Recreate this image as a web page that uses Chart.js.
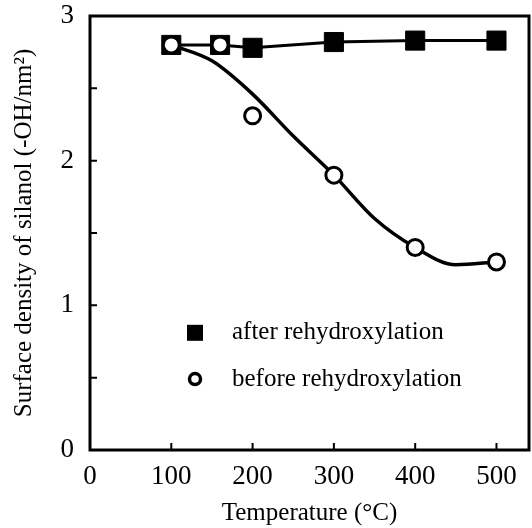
<!DOCTYPE html>
<html>
<head>
<meta charset="utf-8">
<script src="https://cdn.jsdelivr.net/npm/chart.js@4/dist/chart.umd.min.js"></script>
<style>
html,body{margin:0;padding:0;background:#fff;overflow:hidden;}
#wrap{width:532px;height:528px;}
canvas{display:block;}
</style>
</head>
<body>
<div id="wrap"><canvas id="c" width="532" height="528"></canvas></div>
<script>
// ---- data ----
const afterX = [100, 160, 200, 300, 400, 500];
const afterY = [2.80, 2.80, 2.78, 2.82, 2.83, 2.83];
const beforeX = [100, 160, 200, 300, 400, 500];
const beforeY = [2.80, 2.80, 2.31, 1.90, 1.40, 1.30];
const fitX = [100, 150, 200, 250, 300, 350, 400, 450, 500];
const fitY = [2.80, 2.69, 2.46, 2.17, 1.90, 1.60, 1.40, 1.28, 1.30];
const xTicks = [0, 100, 200, 300, 400, 500];
const yTicks = [0, 0.5, 1, 1.5, 2, 2.5, 3];
const seriesLabels = ['after rehydroxylation', 'before rehydroxylation'];
const xTitle = 'Temperature (°C)';
const yTitle = 'Surface density of silanol (-OH/nm²)';

const FONT = "'Liberation Serif', 'DejaVu Serif', serif";
const INK = '#000';

const pts = (xs, ys) => xs.map((x, i) => ({x: x, y: ys[i]}));

const framePlugin = {
  id: 'frame',
  afterDatasetsDraw(chart) {
    const {ctx, chartArea: a, scales} = chart;
    ctx.save();
    ctx.strokeStyle = INK;
    ctx.lineWidth = 3;
    ctx.strokeRect(a.left, a.top, a.right - a.left, a.bottom - a.top);
    ctx.lineWidth = 2;
    const L = 7;
    ctx.beginPath();
    xTicks.forEach(v => {
      const px = scales.x.getPixelForValue(v);
      ctx.moveTo(px, a.bottom); ctx.lineTo(px, a.bottom - L);
    });
    yTicks.forEach(v => {
      const py = scales.y.getPixelForValue(v);
      ctx.moveTo(a.left, py); ctx.lineTo(a.left + L, py);
    });
    ctx.stroke();
    // legend
    const lx = a.left + 105, tx = a.left + 142;
    const ly1 = scales.y.getPixelForValue(0.81);
    const ly2 = scales.y.getPixelForValue(0.49);
    ctx.fillStyle = INK;
    ctx.fillRect(lx - 8, ly1 - 8, 16, 16);
    ctx.beginPath();
    ctx.lineWidth = 3.5;
    ctx.arc(lx, ly2, 5.5, 0, Math.PI * 2);
    ctx.fillStyle = '#fff'; ctx.fill(); ctx.stroke();
    ctx.fillStyle = INK;
    ctx.font = "25px " + FONT;
    ctx.textBaseline = 'middle';
    ctx.fillText(seriesLabels[0], tx, ly1);
    ctx.fillText(seriesLabels[1], tx, ly2);
    ctx.restore();
  }
};

new Chart(document.getElementById('c'), {
  type: 'line',
  data: {
    datasets: [
      {
        label: 'fit',
        data: pts(fitX, fitY),
        borderColor: INK,
        borderWidth: 3.5,
        pointRadius: 0,
        cubicInterpolationMode: 'monotone',
        fill: false,
        order: 3
      },
      {
        label: seriesLabels[0],
        data: pts(afterX, afterY),
        borderColor: INK,
        borderWidth: 3,
        pointStyle: 'rect',
        pointRadius: 13.5,
        pointBackgroundColor: INK,
        pointBorderColor: INK,
        pointBorderWidth: 1,
        tension: 0,
        fill: false,
        order: 2
      },
      {
        label: seriesLabels[1],
        data: pts(beforeX, beforeY),
        showLine: false,
        pointStyle: 'circle',
        pointRadius: 8,
        pointBackgroundColor: '#fff',
        pointBorderColor: INK,
        pointBorderWidth: 3,
        fill: false,
        order: 1
      }
    ]
  },
  options: {
    responsive: false,
    animation: false,
    devicePixelRatio: 1,
    layout: {autoPadding: false, padding: {top: 16, right: 3, left: 0, bottom: 0}},
    plugins: {legend: {display: false}, tooltip: {enabled: false}},
    scales: {
      x: {
        type: 'linear',
        min: 0, max: 540,
        afterBuildTicks: ax => { ax.ticks = xTicks.map(v => ({value: v})); },
        afterFit: ax => { ax.height = 78; ax.paddingLeft = 0; ax.paddingRight = 0; },
        grid: {display: false},
        border: {display: false},
        ticks: {color: INK, font: {family: FONT, size: 27}, padding: 3, maxRotation: 0},
        title: {display: true, text: xTitle, color: INK, font: {family: FONT, size: 25}, padding: {top: 0, bottom: 0}}
      },
      y: {
        type: 'linear',
        min: 0, max: 3,
        afterBuildTicks: ax => { ax.ticks = yTicks.map(v => ({value: v})); },
        afterFit: ax => { ax.width = 90; ax.paddingTop = 0; ax.paddingBottom = 0; },
        grid: {display: false},
        border: {display: false},
        ticks: {color: INK, font: {family: FONT, size: 27}, padding: 8,
          callback: v => (Number.isInteger(v) ? String(v) : '')},
        title: {display: true, text: yTitle, color: INK, font: {family: FONT, size: 25}, padding: {top: 9, bottom: 0}}
      }
    }
  },
  plugins: [framePlugin]
});
</script>
</body>
</html>
